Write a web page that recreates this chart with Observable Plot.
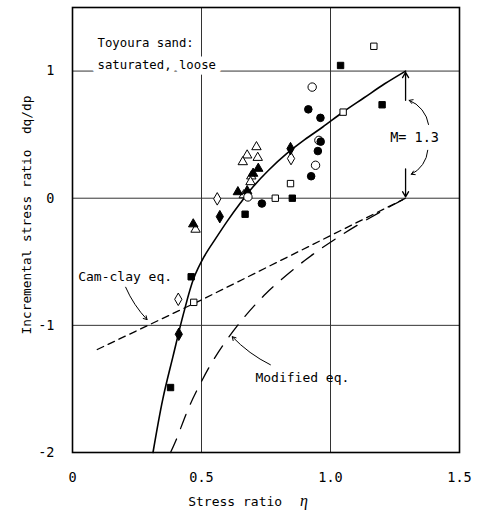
<!DOCTYPE html>
<html>
<head>
<meta charset="utf-8">
<script src="https://cdn.jsdelivr.net/npm/d3@7"></script>
<script src="https://cdn.jsdelivr.net/npm/@observablehq/plot@0.6"></script>
<style>
  html, body { margin: 0; padding: 0; background: #fff; }
  #chart svg { display: block; }
</style>
</head>
<body>
<div id="chart"></div>
<script>
// ---- tick values / labels ----
const xTicks = [0, 0.5, 1.0, 1.5];
const xTickLabels = ["0", "0.5", "1.0", "1.5"];
const yTicks = [-2, -1, 0, 1];
const yTickLabels = ["-2", "-1", "0", "1"];
const gridX = [0.5, 1.0];
const gridY = [-1, 0, 1];

// ---- measured points [eta, dq/dp] ----
const openSquare = [[1.168, 1.195], [1.049, 0.677], [0.845, 0.115], [0.786, 0.0], [0.470, -0.819]];
const filledSquare = [[1.039, 1.044], [1.200, 0.735], [0.852, 0.0], [0.669, -0.126], [0.460, -0.618], [0.380, -1.489]];
const openCircle = [[0.929, 0.874], [0.955, 0.455], [0.942, 0.259], [0.680, 0.010]];
const filledCircle = [[0.914, 0.699], [0.961, 0.632], [0.962, 0.445], [0.951, 0.371], [0.925, 0.173], [0.734, -0.042]];
const openDiamond = [[0.847, 0.312], [0.561, -0.005], [0.410, -0.795]];
const filledDiamond = [[0.845, 0.390], [0.571, -0.145], [0.412, -1.070]];
const openTriangle = [[0.713, 0.403], [0.677, 0.338], [0.718, 0.319], [0.660, 0.285], [0.693, 0.173], [0.690, 0.128], [0.664, 0.025], [0.477, -0.246]];
const filledTriangle = [[0.720, 0.233], [0.700, 0.194], [0.641, 0.049], [0.677, 0.057], [0.468, -0.204]];

// ---- curves ----
const proposedCurve = [[0.312, -2.0], [0.35, -1.58], [0.39, -1.24], [0.43, -0.91], [0.47, -0.63], [0.51, -0.46], [0.554, -0.32], [0.60, -0.18], [0.65, -0.04], [0.70, 0.09], [0.76, 0.22], [0.83, 0.35], [0.90, 0.46], [0.97, 0.56], [1.05, 0.68], [1.13, 0.79], [1.21, 0.90], [1.291, 1.0]];
const camClayLine = [[0.096, -1.19], [0.50, -0.80], [1.291, 0.0]];
const modifiedCurve = [[0.38, -2.0], [0.40, -1.91], [0.45, -1.65], [0.49, -1.48], [0.55, -1.26], [0.64, -1.0], [0.75, -0.75], [0.90, -0.49], [1.05, -0.28], [1.20, -0.10], [1.291, 0.0]];

const FONT = "'DejaVu Sans Mono', monospace";
const X = d => d[0], Y = d => d[1];

const dots = (data, symbol, r, fill) =>
  Plot.dot(data, {x: X, y: Y, symbol, r, fill, stroke: "black", strokeWidth: 1});

const plot = Plot.plot({
  width: 479,
  height: 514,
  marginLeft: 72,
  marginRight: 20,
  marginTop: 7,
  marginBottom: 62,
  style: {fontFamily: FONT, fontSize: "13px", color: "black", background: "white"},
  x: {domain: [0, 1.5]},
  y: {domain: [-2, 1.5]},
  marks: [
    Plot.ruleX(gridX, {stroke: "#333", strokeWidth: 1}),
    Plot.ruleY(gridY, {stroke: "#333", strokeWidth: 1}),
    // annotation text with white halo (hides grid lines behind it)
    Plot.text(["Toyoura sand:"], {x: 0.097, y: 1.224, text: d => d, textAnchor: "start", fontSize: 12.3, stroke: "white", strokeWidth: 12, fill: "black"}),
    Plot.text(["saturated, loose"], {x: 0.097, y: 1.044, text: d => d, textAnchor: "start", fontSize: 12.3, stroke: "white", strokeWidth: 12, fill: "black"}),
    Plot.line(camClayLine, {x: X, y: Y, stroke: "black", strokeWidth: 1.3, strokeDasharray: "7,5"}),
    Plot.line(modifiedCurve, {x: X, y: Y, stroke: "black", strokeWidth: 1.3, strokeDasharray: "15,11", curve: "catmull-rom"}),
    Plot.line(proposedCurve, {x: X, y: Y, stroke: "black", strokeWidth: 1.6, curve: "catmull-rom"}),
    // M = 1.3 arrows
    Plot.arrow([0], {x1: 1.291, y1: 0.77, x2: 1.291, y2: 0.99, stroke: "black", strokeWidth: 1.3, headLength: 7}),
    Plot.arrow([0], {x1: 1.291, y1: 0.23, x2: 1.291, y2: 0.01, stroke: "black", strokeWidth: 1.3, headLength: 7}),
    Plot.arrow([0], {x1: 1.38, y1: 0.58, x2: 1.305, y2: 0.77, bend: -30, stroke: "black", strokeWidth: 1, headLength: 6}),
    Plot.arrow([0], {x1: 1.377, y1: 0.377, x2: 1.313, y2: 0.188, bend: 30, stroke: "black", strokeWidth: 1, headLength: 6}),
    Plot.text(["M= 1.3"], {x: 1.326, y: 0.479, text: d => d, fontSize: 13.5, stroke: "white", strokeWidth: 4, fill: "black"}),
    // Cam-clay label + arrow
    Plot.text(["Cam-clay eq."], {x: 0.022, y: -0.62, text: d => d, textAnchor: "start", fontSize: 13, fill: "black"}),
    Plot.arrow([0], {x1: 0.206, y1: -0.70, x2: 0.289, y2: -0.955, bend: -10, stroke: "black", strokeWidth: 1, headLength: 6}),
    // Modified label + arrow
    Plot.text(["Modified eq."], {x: 0.709, y: -1.413, text: d => d, textAnchor: "start", fontSize: 13, fill: "black"}),
    Plot.arrow([0], {x1: 0.767, y1: -1.31, x2: 0.619, y2: -1.089, bend: 10, stroke: "black", strokeWidth: 1, headLength: 6}),
    // data points
    dots(openSquare, "square", 3.6, "white"),
    dots(filledSquare, "square", 3.6, "black"),
    dots(openTriangle, "triangle", 3.5, "white"),
    dots(filledTriangle, "triangle", 3.5, "black"),
    dots(openDiamond, "diamond", 3.8, "white"),
    dots(filledDiamond, "diamond", 3.8, "black"),
    dots(openCircle, "circle", 4.2, "white"),
    dots(filledCircle, "circle", 3.8, "black"),
    Plot.frame({stroke: "black", strokeWidth: 1.6}),
    Plot.axisX(xTicks, {tickSize: 0, tickPadding: 20, fontSize: 13.5, tickFormat: (d, i) => xTickLabels[i], label: null}),
    Plot.axisY(yTicks, {tickSize: 0, tickPadding: 18, fontSize: 13.5, tickFormat: (d, i) => yTickLabels[i], label: null}),
    // axis titles
    Plot.text(["Stress ratio  "], {frameAnchor: "bottom", dx: -23, dy: 53, text: d => d, fontSize: 13, textAnchor: "middle"}),
    Plot.text(["η"], {frameAnchor: "bottom", dx: 38, dy: 53, text: d => d, fontSize: 16, fontStyle: "italic", fontFamily: "'Liberation Serif', serif"}),
    Plot.text(["Incremental stress ratio  dq/dp"], {frameAnchor: "left", dx: -46, dy: -15, rotate: -90, text: d => d, fontSize: 12.8, textAnchor: "middle"})
  ]
});
document.getElementById("chart").appendChild(plot);
</script>
</body>
</html>
